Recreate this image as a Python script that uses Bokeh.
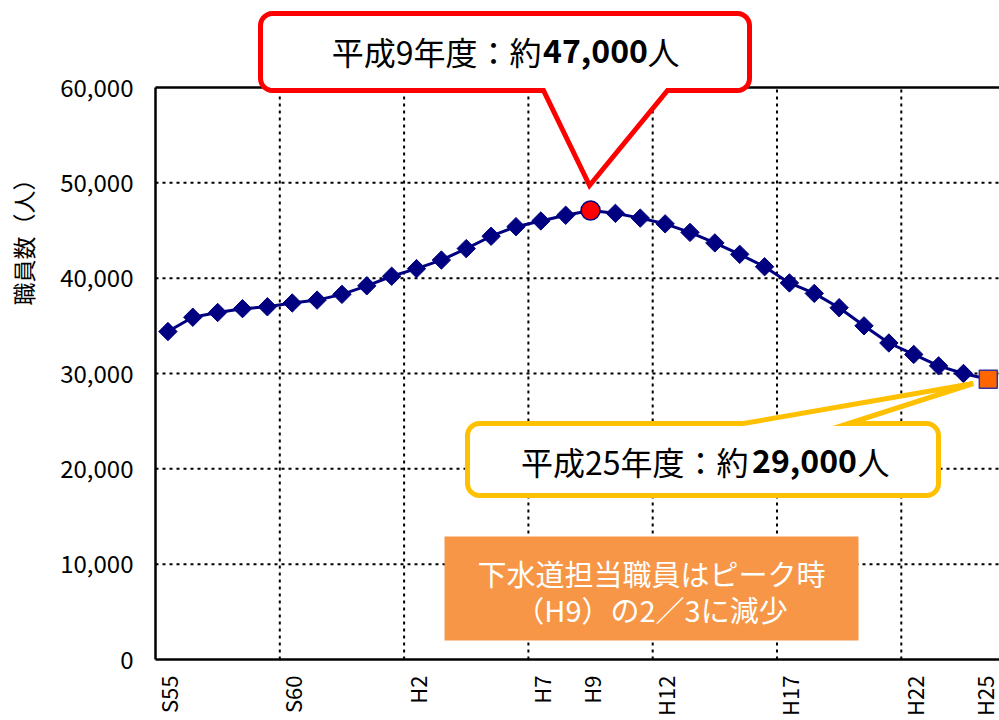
import numpy as np
from bokeh.plotting import figure
from bokeh.models import (FixedTicker, Label, ColumnDataSource, LinearAxis,
                          BoxAnnotation, PolyAnnotation, NumeralTickFormatter, Range1d)
from bokeh.embed import file_html
from bokeh.resources import INLINE

# ---------------- data ----------------
years = ["S55", "S56", "S57", "S58", "S59", "S60", "S61", "S62", "S63",
         "H1", "H2", "H3", "H4", "H5", "H6", "H7", "H8", "H9", "H10", "H11", "H12",
         "H13", "H14", "H15", "H16", "H17", "H18", "H19", "H20", "H21", "H22", "H23", "H24", "H25"]
staff = [34400, 35900, 36400, 36800, 37000, 37400, 37700, 38300, 39200,
         40200, 41000, 41900, 43100, 44400, 45400, 46000, 46600, 47100, 46800, 46300, 45700,
         44800, 43700, 42500, 41200, 39500, 38400, 36900, 35000, 33200, 32000, 30800, 30000, 29400]
tick_years = ["S55", "S60", "H2", "H7", "H9", "H12", "H17", "H22", "H25"]
grid_years = ["S60", "H2", "H7", "H12", "H17", "H22"]
y_ticks = [0, 10000, 20000, 30000, 40000, 50000, 60000]
y_grid = [10000, 20000, 30000, 40000, 50000]

y_label = "職員数（人）"
peak_text = ["平成9年度：約", "47,000", "人"]
last_text = ["平成25年度：約", "29,000", "人"]
note_lines = ["下水道担当職員はピーク時", "（H9）の2／3に減少"]

FONT = "Noto Sans CJK JP"
NAVY = "#000080"

x = np.arange(len(years))
peak_i = int(np.argmax(staff))
last_i = len(years) - 1

# ---------------- geometry (page pixels -> data) ----------------
W, H = 999, 720
FL, FT, FB = 155, 87, 659     # plot-area edges in pixels
SX = 24.86                    # pixels per year
Y_MAX = y_ticks[-1]


def dx(px):
    return -0.5 + (px - FL) / SX


def dy(py):
    return (FB - py) * Y_MAX / (FB - FT)


def px_of(xd):
    return FL + (xd + 0.5) * SX


X_LO, X_HI = -0.5, dx(W)

p = figure(width=W, height=H, output_backend="svg", toolbar_location=None,
           x_range=Range1d(dx(0), dx(W)), y_range=Range1d(dy(H), dy(0)),
           x_axis_type=None, y_axis_type=None, min_border=0)
p.outline_line_color = None
p.background_fill_color = "white"
p.border_fill_color = "white"
p.grid.visible = False

# grid lines (dotted), limited to the plot area
gx = [years.index(g) - 0.5 for g in grid_years]
p.segment(x0=gx, y0=[0] * len(gx), x1=gx, y1=[Y_MAX] * len(gx),
          line_color="black", line_width=2, line_dash="3 4")
p.segment(x0=[X_LO] * len(y_grid), y0=y_grid, x1=[X_HI] * len(y_grid), y1=y_grid,
          line_color="black", line_width=2, line_dash="3 4")
# top border
p.segment(x0=[X_LO], y0=[Y_MAX], x1=[X_HI], y1=[Y_MAX], line_color="black", line_width=2.5)

# axes drawn at the plot-area edges
yax = LinearAxis(fixed_location=X_LO, bounds=(0, Y_MAX),
                 ticker=FixedTicker(ticks=y_ticks),
                 formatter=NumeralTickFormatter(format="0,0"))
yax.major_label_text_font = FONT
yax.major_label_text_font_size = "24px"
yax.major_label_text_color = "black"
yax.major_label_standoff = 16
p.add_layout(yax, "left")

tick_pos = [years.index(t) for t in tick_years]
xax = LinearAxis(fixed_location=0, bounds=(X_LO, X_HI),
                 ticker=FixedTicker(ticks=tick_pos),
                 major_label_overrides={i: t for i, t in zip(tick_pos, tick_years)})
xax.major_label_orientation = np.pi / 2
xax.major_label_text_font = FONT
xax.major_label_text_font_size = "22px"
xax.major_label_text_color = "black"
xax.major_label_standoff = 10
p.add_layout(xax, "below")

for ax in (xax, yax):
    ax.axis_line_color = "black"
    ax.axis_line_width = 2.5
    ax.major_tick_line_color = None
    ax.minor_tick_line_color = None

# series
p.line(x, staff, line_color=NAVY, line_width=3)
mask = [i for i in range(len(years)) if i not in (peak_i, last_i)]
src = ColumnDataSource(dict(x=x[mask], y=[staff[i] for i in mask]))
p.scatter("x", "y", source=src, marker="square", angle=np.pi / 4, size=13,
          fill_color=NAVY, line_color=NAVY)
p.scatter([x[peak_i]], [staff[peak_i]], marker="circle", size=19,
          fill_color="#FF0000", line_color=NAVY, line_width=1.5)
p.scatter([x[last_i]], [staff[last_i]], marker="square", size=18,
          fill_color="#FF6600", line_color="#333399", line_width=1.5)

# y axis title
p.add_layout(Label(x=dx(22), y=dy(236), text=y_label, angle=np.pi / 2,
                   text_align="center", text_baseline="middle",
                   text_font=FONT, text_font_size="23px", text_color="black"))


# callouts
def callout(l, t, r, b, rad, n0, n1, tip, side):
    pts = []
    arc = lambda cx, cy, a0, a1: [(cx + rad * np.cos(a), cy + rad * np.sin(a))
                                  for a in np.linspace(np.radians(a0), np.radians(a1), 8)]
    pts += arc(l + rad, t + rad, 180, 270)
    if side == "top":
        pts += [(n0, t), tip, (n1, t)]
    pts += arc(r - rad, t + rad, 270, 360)
    pts += arc(r - rad, b - rad, 0, 90)
    if side == "bottom":
        pts += [(n1, b), tip, (n0, b)]
    pts += arc(l + rad, b - rad, 90, 180)
    return [dx(a) for a, _ in pts], [dy(c) for _, c in pts]


red_tip = (px_of(x[peak_i]) - 1, 185)
xs, ys = callout(260, 13, 749, 90, 12, 543, 667, red_tip, "bottom")
p.add_layout(PolyAnnotation(xs=xs, ys=ys, fill_color="white", fill_alpha=1,
                            line_color="#FF0000", line_alpha=1, line_width=5,
                            line_join="miter"))

yel_tip = (px_of(x[last_i]) - 15, 383)
xs, ys = callout(467, 423, 938, 495, 12, 743, 848, yel_tip, "top")
p.add_layout(PolyAnnotation(xs=xs, ys=ys, fill_color="white", fill_alpha=1,
                            line_color="#FFC000", line_alpha=1, line_width=5,
                            line_join="miter"))


def rich(parts, yc, x_right1, x_center2, x_left3):
    common = dict(y=dy(yc), text_baseline="middle", text_font=FONT,
                  text_font_size="32px", text_color="black")
    p.add_layout(Label(x=dx(x_right1), text=parts[0], text_align="right", **common))
    p.add_layout(Label(x=dx(x_center2), text=parts[1], text_align="center",
                       text_font_style="bold", **common))
    p.add_layout(Label(x=dx(x_left3), text=parts[2], text_align="left", **common))


rich(peak_text, 50, 541, 595, 647)
rich(last_text, 460, 748, 804, 857)

# orange note box
p.add_layout(BoxAnnotation(left=dx(444), right=dx(858), top=dy(536), bottom=dy(640),
                           fill_color="#F79646", fill_alpha=1, line_color=None))
for line, yc in zip(note_lines, [572, 608]):
    p.add_layout(Label(x=dx(651), y=dy(yc), text=line, text_align="center",
                       text_baseline="middle", text_font=FONT, text_font_size="29px",
                       text_color="white"))

open("out.html", "w").write(file_html(p, INLINE))
